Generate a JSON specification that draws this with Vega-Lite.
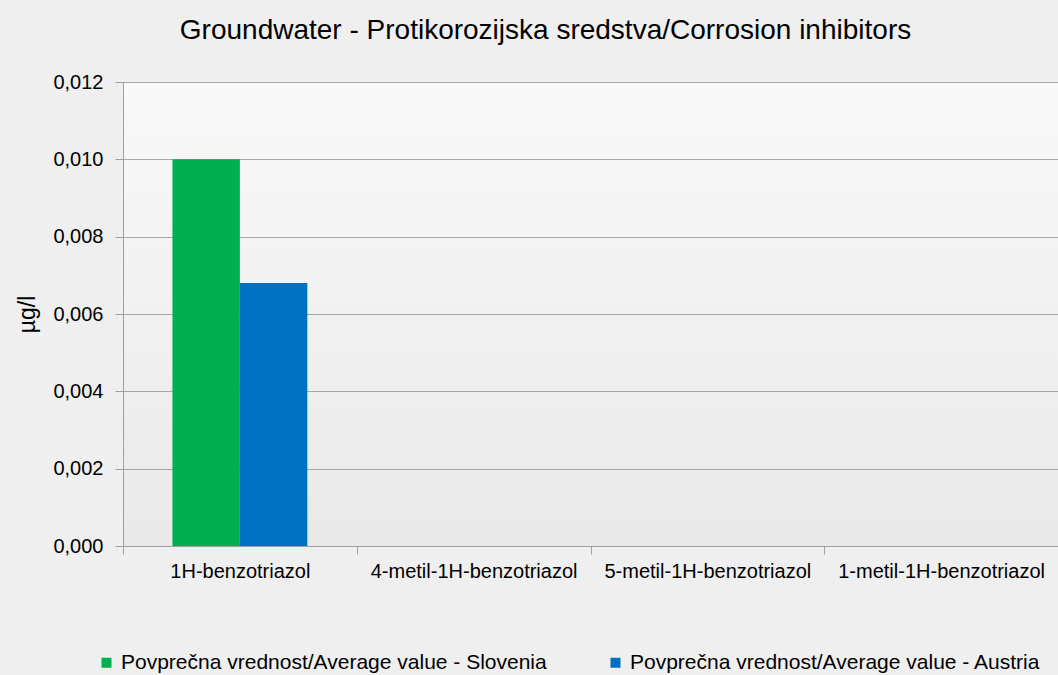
{
  "$schema": "https://vega.github.io/schema/vega-lite/v6.json",
  "autosize": "none",
  "width": 935,
  "height": 464,
  "padding": {"left": 123, "top": 82, "right": 0, "bottom": 129},
  "background": "#efefef",
  "config": {
    "font": "Liberation Sans",
    "view": {"stroke": null, "fill": {"gradient": "linear", "x1": 0, "y1": 0, "x2": 0, "y2": 1, "stops": [{"offset": 0, "color": "#f9f9f9"}, {"offset": 1, "color": "#e9e9e9"}]}},
    "locale": {"number": {"decimal": ",", "thousands": ".", "grouping": [3], "currency": ["", " €"]}}
  },
  "title": {"text": "Groundwater - Protikorozijska sredstva/Corrosion inhibitors", "fontSize": 28, "fontWeight": "normal", "color": "#000000", "anchor": "middle", "dx": -45, "offset": 27},
  "data": {"values": [
    {"substance": "1H-benzotriazol", "series": "Povprečna vrednost/Average value - Slovenia", "value": 0.010},
    {"substance": "1H-benzotriazol", "series": "Povprečna vrednost/Average value - Austria", "value": 0.0068}
  ]},
  "mark": {"type": "bar"},
  "encoding": {
    "x": {"field": "substance", "type": "nominal", "sort": null,
      "scale": {"domain": ["1H-benzotriazol", "4-metil-1H-benzotriazol", "5-metil-1H-benzotriazol", "1-metil-1H-benzotriazol"], "paddingInner": 0, "paddingOuter": 0},
      "axis": {"title": null, "labelAngle": 0, "labelFontSize": 20, "labelColor": "#000000", "labelPadding": 7, "domainColor": "#a0a0a0", "tickColor": "#a0a0a0", "tickBand": "extent", "tickSize": 8, "grid": false, "labelLimit": 300}},
    "xOffset": {"field": "series", "type": "nominal", "sort": ["Povprečna vrednost/Average value - Slovenia", "Povprečna vrednost/Average value - Austria"],
      "scale": {"paddingInner": 0, "paddingOuter": 0.733}},
    "y": {"field": "value", "type": "quantitative",
      "scale": {"domain": [0, 0.012]},
      "axis": {"title": "µg/l", "titleFontSize": 23, "titleFontWeight": "normal", "titleColor": "#000000", "titlePadding": 13, "format": ".3f", "values": [0, 0.002, 0.004, 0.006, 0.008, 0.01, 0.012], "labelOverlap": false, "labelFontSize": 20, "labelColor": "#000000", "labelPadding": 12, "domainColor": "#a0a0a0", "tickColor": "#a0a0a0", "tickSize": 8, "gridColor": "#a6a6a6", "gridWidth": 1}},
    "color": {"field": "series", "type": "nominal", "sort": ["Povprečna vrednost/Average value - Slovenia", "Povprečna vrednost/Average value - Austria"],
      "scale": {"range": ["#00b050", "#0070c0"]},
      "legend": {"title": null, "orient": "none", "legendX": -27, "legendY": 570, "direction": "horizontal", "symbolType": "square", "symbolSize": 100, "symbolStrokeWidth": 0, "labelFontSize": 21, "labelColor": "#000000", "labelOffset": 4, "columnPadding": 58, "labelLimit": 600}}
  }
}
